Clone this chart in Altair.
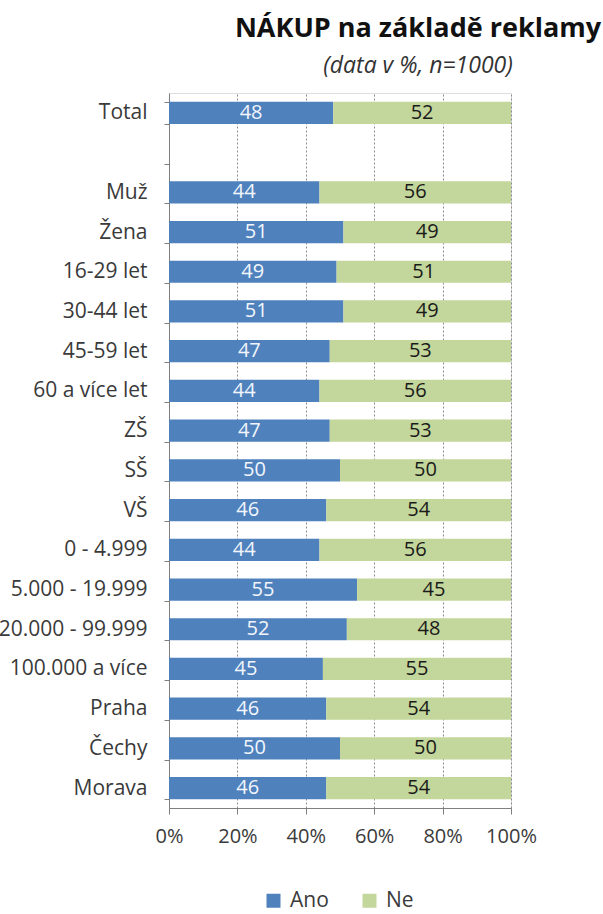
import altair as alt
import pandas as pd

categories = ["Total", " ", "Muž", "Žena", "16-29 let", "30-44 let", "45-59 let",
              "60 a více let", "ZŠ", "SŠ", "VŠ", "0 - 4.999", "5.000 - 19.999",
              "20.000 - 99.999", "100.000 a více", "Praha", "Čechy", "Morava"]
data_categories = ["Total", "Muž", "Žena", "16-29 let", "30-44 let", "45-59 let",
                   "60 a více let", "ZŠ", "SŠ", "VŠ", "0 - 4.999", "5.000 - 19.999",
                   "20.000 - 99.999", "100.000 a více", "Praha", "Čechy", "Morava"]
ano = [48, 44, 51, 49, 51, 47, 44, 47, 50, 46, 44, 55, 52, 45, 46, 50, 46]
ne = [52, 56, 49, 51, 49, 53, 56, 53, 50, 54, 56, 45, 48, 55, 54, 50, 54]
series = ["Ano", "Ne"]
colors = ["#4F81BD", "#C3D69B"]
label_colors = ["#F2F6FC", "#1A1A1A"]
tick_values = [0, 20, 40, 60, 80, 100]

rows = []
for c, a, n in zip(data_categories, ano, ne):
    rows.append({"cat": c, "serie": "Ano", "value": a, "ord": 0})
    rows.append({"cat": c, "serie": "Ne", "value": n, "ord": 1})
df = pd.DataFrame(rows)

base = alt.Chart(df).transform_stack(
    stack="value", groupby=["cat"], as_=["x0", "x1"],
    sort=[alt.SortField("ord", order="ascending")]
).transform_calculate(mid="(datum.x0 + datum.x1) / 2")

yenc = alt.Y("cat:N", sort=categories,
             scale=alt.Scale(domain=categories, paddingInner=0.44, paddingOuter=0.22),
             axis=alt.Axis(title=None, labelFontSize=21, labelColor="#3A3A3A",
                           labelPadding=17, tickSize=5, tickColor="#7F7F7F",
                           domainColor="#7F7F7F", tickBand="extent", labelLimit=0,
                           grid=False, labelFont="Open Sans"))

bars = base.mark_bar().encode(
    x=alt.X("x0:Q", scale=alt.Scale(domain=[0, 100], nice=False),
            axis=alt.Axis(title=None, values=tick_values, labelExpr="datum.value + '%'",
                          grid=True, gridDash=[2, 2], gridColor="#8C8C8C",
                          tickSize=6, tickColor="#7F7F7F", domainColor="#7F7F7F",
                          labelFontSize=20, labelColor="#3A3A3A", labelPadding=12,
                          labelOverlap=False, labelFlush=False,
                          labelFont="Open Sans")),
    x2="x1:Q",
    y=yenc,
    color=alt.Color("serie:N", scale=alt.Scale(domain=series, range=colors),
                    legend=alt.Legend(title=None, orient="none", direction="horizontal",
                                      legendX=94, legendY=797, labelFontSize=21,
                                      labelFont="Open Sans", labelColor="#3A3A3A",
                                      symbolType="square", symbolSize=196,
                                      symbolStrokeWidth=0, columnPadding=30,
                                      labelOffset=6)),
)

text = base.mark_text(fontSize=20, font="Open Sans").encode(
    x="mid:Q",
    y=alt.Y("cat:N", sort=categories),
    text="value:Q",
    color=alt.Color("serie:N", scale=alt.Scale(domain=series, range=label_colors), legend=None),
)

chart = alt.layer(bars, text).resolve_scale(color="independent").properties(
    width=342, height=715,
    autosize=alt.AutoSizeParams(type="none"),
    padding={"left": 169, "top": 93, "right": 92, "bottom": 106},
    title=alt.TitleParams(text="NÁKUP na základě reklamy", subtitle="(data v %, n=1000)",
                          font="Open Sans", fontSize=27, fontWeight="bold", color="#111111",
                          subtitleFont="Open Sans", subtitleFontSize=23,
                          subtitleFontStyle="italic", subtitleColor="#333333",
                          anchor="middle", dx=78, offset=3, subtitlePadding=12),
).configure_view(stroke=None).configure(background="white")

chart.save("out.html", embed_options={"renderer": "svg", "actions": False})
